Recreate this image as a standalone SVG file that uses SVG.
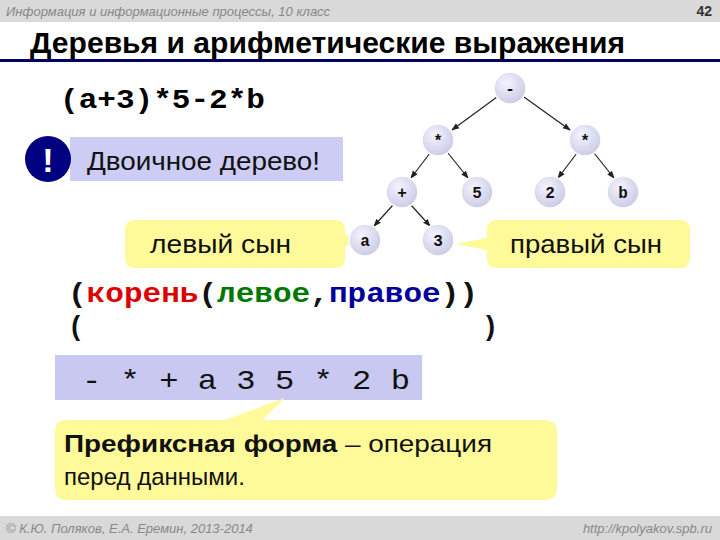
<svg xmlns="http://www.w3.org/2000/svg" width="720" height="540" viewBox="0 0 720 540">
<style>
.s{font-family:"Liberation Sans",Arial,sans-serif}
.m{font-family:"Liberation Mono","Courier New",monospace;font-weight:bold}
.n circle{stroke:#ffffff;stroke-width:1.5}
.n text{font-family:"Liberation Mono",monospace;font-weight:bold;font-size:16px;text-anchor:middle;fill:#111}
.c{fill:#fffa99}
</style>
<defs>
<marker id="ah" markerWidth="8" markerHeight="8" refX="7" refY="4" orient="auto" markerUnits="userSpaceOnUse"><path d="M0,1 L8,4 L0,7 z" fill="#222"/></marker>
<radialGradient id="g" cx="40%" cy="35%" r="70%"><stop offset="0" stop-color="#f4f4ff"/><stop offset="1" stop-color="#c8c8e4"/></radialGradient>
</defs>
<rect width="720" height="540" fill="#fff"/>
<rect width="720" height="22" fill="#d9d9d9"/>
<text class="s" x="6" y="16" font-size="13" font-style="italic" fill="#888">Информация и информационные процессы, 10 класс</text>
<text class="s" x="712" y="16" font-size="14" font-weight="bold" text-anchor="end" fill="#333">42</text>
<text class="s" x="30" y="53" font-size="29" font-weight="bold" fill="#000" textLength="595" lengthAdjust="spacingAndGlyphs">Деревья и арифметические выражения</text>
<rect x="0" y="59" width="720" height="3" fill="#000066"/>
<rect x="0" y="516" width="720" height="24" fill="#d9d9d9"/>
<text class="s" x="6" y="533" font-size="13" font-style="italic" fill="#888">© К.Ю. Поляков, Е.А. Еремин, 2013-2014</text>
<text class="s" x="712" y="533" font-size="13" font-style="italic" fill="#888" text-anchor="end">http://kpolyakov.spb.ru</text>

<text class="m" x="60" y="108" font-size="27" textLength="205" lengthAdjust="spacingAndGlyphs">(a+3)*5-2*b</text>

<rect x="70" y="137" width="273" height="44" fill="#ccccf5"/>
<circle cx="48" cy="159" r="23" fill="#000080"/>
<text class="s" x="48" y="172" font-size="34" font-weight="bold" fill="#fff" text-anchor="middle">!</text>
<text class="s" x="87" y="170" font-size="26" fill="#111" textLength="233" lengthAdjust="spacingAndGlyphs">Двоичное дерево!</text>

<g id="callout-left">
<path class="c" d="M135,220 H335 Q345,220 345,230 V234 L360,241 L345,246 V258 Q345,268 335,268 H135 Q125,268 125,258 V230 Q125,220 135,220 Z"/>
<text class="s" x="150" y="253" font-size="26" fill="#111" textLength="141" lengthAdjust="spacingAndGlyphs">левый сын</text>
</g>
<g id="callout-right">
<path class="c" d="M497,220 H680 Q690,220 690,230 V258 Q690,268 680,268 H497 Q487,268 487,258 V250 L455,244 L487,238 V230 Q487,220 497,220 Z"/>
<text class="s" x="510" y="253" font-size="26" fill="#111" textLength="152" lengthAdjust="spacingAndGlyphs">правый сын</text>
</g>

<g id="connectors" stroke="#222" stroke-width="1.2" marker-end="url(#ah)">
<line x1="497" y1="97" x2="452" y2="130"/>
<line x1="524" y1="97" x2="570" y2="130"/>
<line x1="430" y1="153" x2="411" y2="178"/>
<line x1="448" y1="153" x2="468" y2="178"/>
<line x1="577" y1="153" x2="558" y2="178"/>
<line x1="594" y1="153" x2="614" y2="178"/>
<line x1="393" y1="205" x2="374" y2="226"/>
<line x1="411" y1="205" x2="430" y2="226"/>
</g>
<g id="n-root" class="n"><circle cx="510" cy="88" r="16" fill="url(#g)"/><text x="510" y="94">-</text></g>
<g id="n-mul1" class="n"><circle cx="438" cy="140" r="16" fill="url(#g)"/><text x="438" y="146">*</text></g>
<g id="n-mul2" class="n"><circle cx="585" cy="140" r="16" fill="url(#g)"/><text x="585" y="146">*</text></g>
<g id="n-plus" class="n"><circle cx="402" cy="192" r="16" fill="url(#g)"/><text x="402" y="198">+</text></g>
<g id="n-5" class="n"><circle cx="477" cy="192" r="16" fill="url(#g)"/><text x="477" y="198">5</text></g>
<g id="n-2" class="n"><circle cx="550" cy="192" r="16" fill="url(#g)"/><text x="550" y="198">2</text></g>
<g id="n-b" class="n"><circle cx="623" cy="192" r="16" fill="url(#g)"/><text x="623" y="198">b</text></g>
<g id="n-a" class="n"><circle cx="365" cy="240" r="16" fill="url(#g)"/><text x="365" y="246">a</text></g>
<g id="n-3" class="n"><circle cx="438" cy="240" r="16" fill="url(#g)"/><text x="438" y="246">3</text></g>

<text class="m" x="68" y="302" font-size="27" textLength="410" lengthAdjust="spacingAndGlyphs"><tspan fill="#111">(</tspan><tspan fill="#dd0000">корень</tspan><tspan fill="#111">(</tspan><tspan fill="#007700">левое</tspan><tspan fill="#111">,</tspan><tspan fill="#000099">правое</tspan><tspan fill="#111">))</tspan></text>
<text class="m" x="68" y="335" font-size="27" fill="#111">(</text>
<text class="m" x="482" y="335" font-size="27" fill="#111">)</text>

<rect x="55" y="355" width="367" height="45" fill="#c8c8f0"/>
<g id="callout-prefix">
<path class="c" d="M67,420 H225 L285,398 L262,420 H545 Q557,420 557,432 V488 Q557,500 545,500 H67 Q55,500 55,488 V432 Q55,420 67,420 Z"/>
<text class="s" x="64" y="452" font-size="24" fill="#111" textLength="428" lengthAdjust="spacingAndGlyphs"><tspan font-weight="bold">Префиксная форма</tspan> – операция</text>
<text class="s" x="64" y="485" font-size="24" fill="#111">перед данными.</text>
</g>
<text x="82" y="389" font-size="28" fill="#111" font-family="Liberation Mono,monospace" textLength="328" lengthAdjust="spacingAndGlyphs">- * + a 3 5 * 2 b</text>
</svg>
